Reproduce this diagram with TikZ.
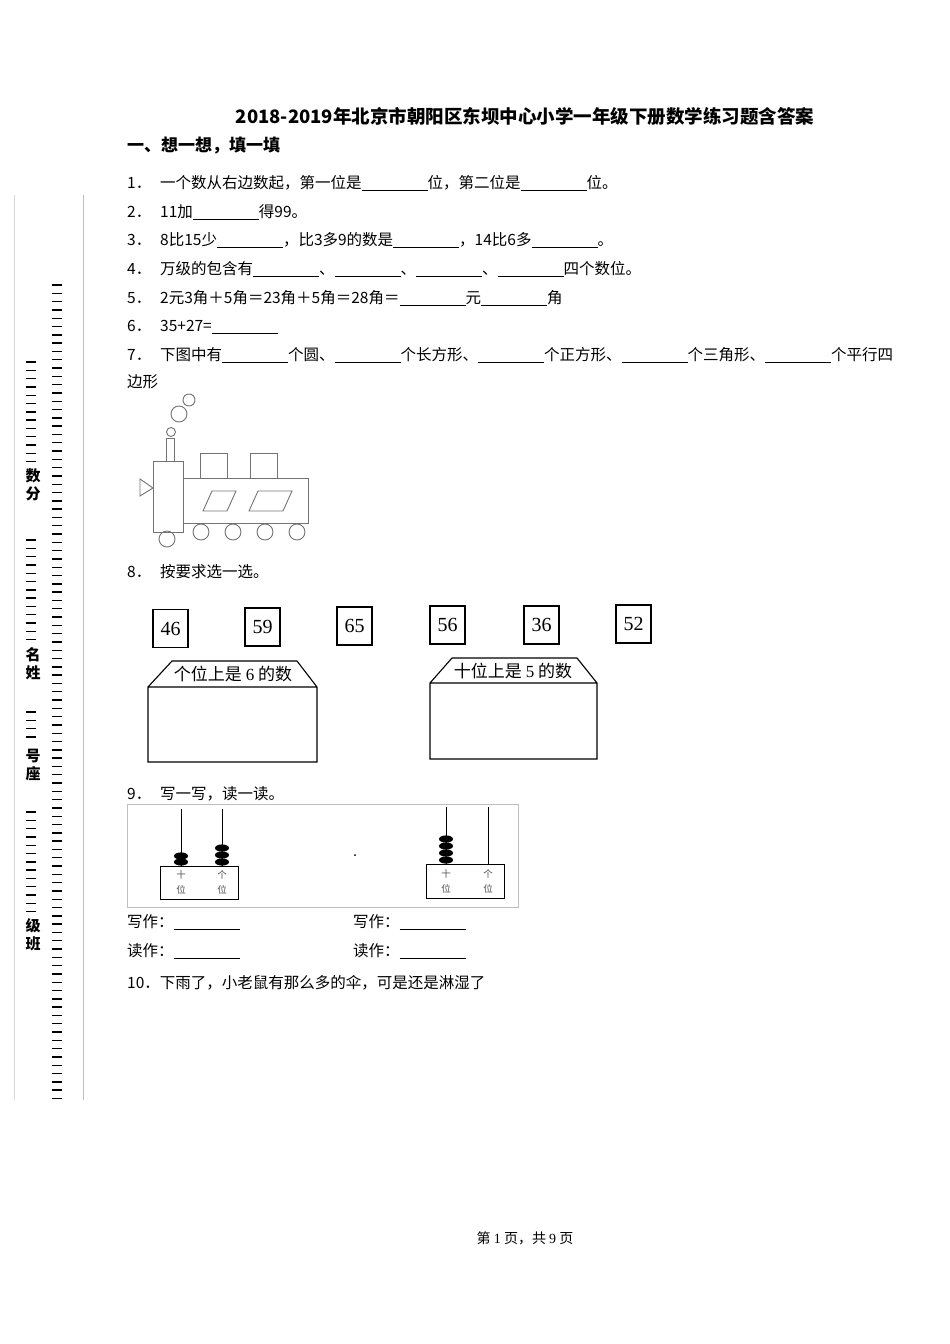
\documentclass[tikz,border=0pt]{standalone}
\usepackage{fontspec}
\setmainfont{Noto Sans CJK SC}
\newfontfamily\numfont{Liberation Serif}
\newcommand{\bl}{\rule[-2.5pt]{66pt}{0.6pt}}
\begin{document}
\begin{tikzpicture}[x=1pt,y=-1pt,
  txt/.style={anchor=base west,inner sep=0pt,font=\fontsize{15.5}{17}\selectfont},
  shp/.style={draw=black!55,line width=0.9pt},
  nbox/.style={draw,line width=1.1pt,minimum width=35pt,minimum height=38pt,font=\numfont\fontsize{20}{22}\selectfont,inner sep=0pt},
  bead/.style={fill=black,draw=none},
  small/.style={font=\fontsize{9.5}{10}\selectfont,text=black!70,inner sep=0pt}]
\useasboundingbox (0,0) rectangle (950,1344);
% margin
\draw[black!15,line width=0.8pt] (14,195) -- (14,1100);
\draw[black!25,line width=0.8pt] (83,195) -- (83,1100);
\foreach \i in {0,...,98} \draw[line width=1.4pt] (52,285+8.3*\i) -- (62,285+8.3*\i);
\foreach \i in {0,...,12} \draw[line width=1.4pt] (26,362+8.3*\i) -- (36,362+8.3*\i);
\foreach \i in {0,...,12} \draw[line width=1.4pt] (26,540+8.3*\i) -- (36,540+8.3*\i);
\foreach \i in {0,...,3} \draw[line width=1.4pt] (26,712+8.3*\i) -- (36,712+8.3*\i);
\foreach \i in {0,...,12} \draw[line width=1.4pt] (26,812+8.3*\i) -- (36,812+8.3*\i);
\foreach \t/\y in {数/476,分/494,名/655,姓/673,号/756,座/774,级/926,班/944}
  \node[font=\bfseries\fontsize{15}{15}\selectfont,inner sep=0pt] (m\t) at (33,\y) {\t};
% title
\node[font=\bfseries\fontsize{18.5}{20}\selectfont,inner sep=0pt] (title) at (525,116) {2018-2019年北京市朝阳区东坝中心小学一年级下册数学练习题含答案};
\node[txt,font=\bfseries\fontsize{17}{18}\selectfont] (h1) at (127,151) {一、想一想，填一填};
% questions
\foreach \n/\y in {1/188,2/217,3/245,4/274,5/303,6/331,7/360,8/577,9/799}
  \node[txt] (q\n) at (127,\y) {\n ．};
\node[txt] (t1) at (160,188) {一个数从右边数起，第一位是\bl 位，第二位是\bl 位。};
\node[txt] (t2) at (160,217) {11加\bl 得99。};
\node[txt] (t3) at (160,245) {8比15少\bl ，比3多9的数是\bl ，14比6多\bl 。};
\node[txt] (t4) at (160,274) {万级的包含有\bl 、\bl 、\bl 、\bl 四个数位。};
\node[txt] (t5) at (160,303) {2元3角＋5角＝23角＋5角＝28角＝\bl 元\bl 角};
\node[txt] (t6) at (160,331) {35+27=\bl};
\node[txt] (t7) at (160,360) {下图中有\bl 个圆、\bl 个长方形、\bl 个正方形、\bl 个三角形、\bl 个平行四};
\node[txt] (t7b) at (127,387) {边形};
\node[txt] (t8) at (160,577) {按要求选一选。};
\node[txt] (t9) at (160,799) {写一写，读一读。};
\node[txt] (w1) at (127,927) {写作：\bl};
\node[txt] (w2) at (353,927) {写作：\bl};
\node[txt] (r1) at (127,956) {读作：\bl};
\node[txt] (r2) at (353,956) {读作：\bl};
\node[txt] (t10) at (127,988) {10．下雨了，小老鼠有那么多的伞，可是还是淋湿了};
% train
\draw[shp] (153,461) rectangle (183,532);
\draw[shp] (166,438) rectangle (174,461);
\draw[shp] (171,432) circle (4.5);
\draw[shp] (179,414) circle (8);
\draw[shp] (189,400) circle (6);
\draw[shp] (183,478) rectangle (308,523);
\draw[shp] (200,453) rectangle (227,478);
\draw[shp] (250,453) rectangle (277,478);
\draw[shp] (203,511) -- (227,511) -- (236,491) -- (212,491) -- cycle;
\draw[shp] (249,511) -- (283,511) -- (292,491) -- (258,491) -- cycle;
\foreach \x in {201,233,265,297} \draw[shp] (\x,532) circle (8);
\draw[shp] (167,539) circle (8);
\draw[shp] (140,479) -- (153,488) -- (140,496) -- cycle;
% number boxes
\node[nbox] (b46) at (170.5,628.5) {46};
\node[nbox] (b59) at (262.5,627) {59};
\node[nbox] (b65) at (354.5,626) {65};
\node[nbox] (b56) at (447.5,625) {56};
\node[nbox] (b36) at (541.5,625) {36};
\node[nbox] (b52) at (633.5,624) {52};
% pentagons
\draw[line width=1.1pt] (148,687) -- (172,661) -- (297,661) -- (317,687) -- (317,762) -- (148,762) -- cycle (148,687) -- (317,687);
\node[font=\fontsize{17}{18}\selectfont,inner sep=0pt] (l1) at (233,674) {个位上是 {\numfont 6} 的数};
\draw[line width=1.1pt] (430,683) -- (452,658) -- (577,658) -- (597,683) -- (597,759) -- (430,759) -- cycle (430,683) -- (597,683);
\node[font=\fontsize{17}{18}\selectfont,inner sep=0pt] (l2) at (513,671) {十位上是 {\numfont 5} 的数};
% abacus
\draw[black!25,line width=0.8pt] (127,804) rectangle (518,907);
\draw[line width=1pt] (160,866) rectangle (238,899);
\draw[line width=1pt] (181,809) -- (181,866) (222,809) -- (222,866);
\foreach \y in {856,862} \fill[bead] (181,\y) ellipse (7 and 3.6);
\foreach \y in {848,855,862} \fill[bead] (222,\y) ellipse (7 and 3.6);
\node[small] (s1) at (181,875) {十}; \node[small] (s2) at (181,890) {位};
\node[small] (s3) at (222,875) {个}; \node[small] (s4) at (222,890) {位};
\draw[line width=1pt] (426,864) rectangle (504,898);
\draw[line width=1pt] (446,807) -- (446,864) (488,807) -- (488,864);
\foreach \y in {839,846,853,860} \fill[bead] (446,\y) ellipse (7 and 3.6);
\node[small] (s5) at (446,874) {十}; \node[small] (s6) at (446,889) {位};
\node[small] (s7) at (488,874) {个}; \node[small] (s8) at (488,889) {位};
\fill (355,855) circle (1);
% footer
\node[font=\fontsize{14}{16}\selectfont,inner sep=0pt] (foot) at (525,1238) {第 {\numfont 1} 页，共 {\numfont 9} 页};
\end{tikzpicture}
\end{document}
